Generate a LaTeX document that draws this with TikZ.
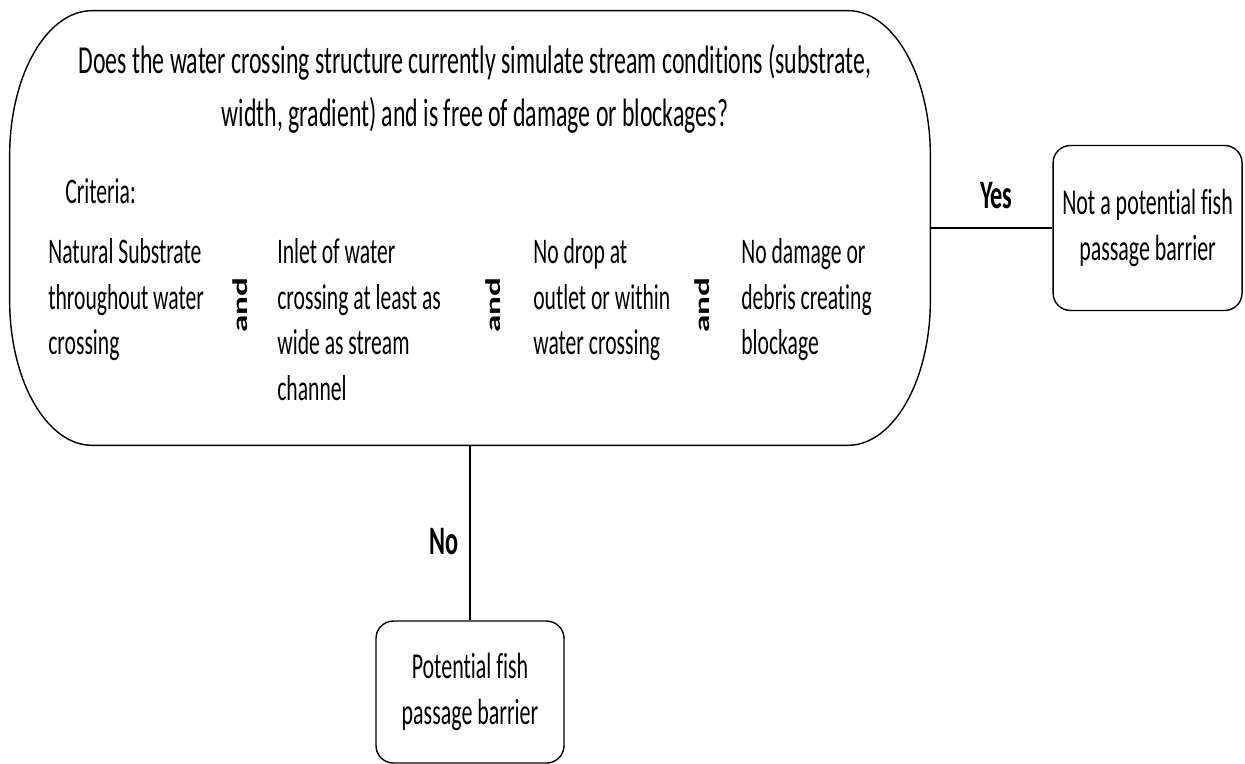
\documentclass[tikz,border=0pt]{standalone}
\usepackage{graphicx}
\usepackage{fontspec}
\setmainfont{Carlito}[FakeStretch=0.6, Ligatures=CommonOff]
\newfontfamily\andfont{Carlito}
\usetikzlibrary{
    calc,
    positioning
}
\tikzset{
    outcome/.style={draw, line width=0.8pt, rounded corners=0.35cm, align=center, minimum width=3.78cm, minimum height=3.3cm, font=\fontsize{20.8}{26}\selectfont},
    crit/.style={anchor=north west, align=left, inner sep=0pt, font=\fontsize{20.5}{26}\selectfont},
    andword/.style={rotate=90, inner sep=0pt, font=\andfont\fontsize{20}{24}\selectfont\bfseries},
    answer/.style={font=\fontsize{23}{28}\selectfont\bfseries}
}

\begin{document}
\begin{tikzpicture}
    \useasboundingbox (0, 0) rectangle (24.9, 15.28);
    \node[minimum width=18.4cm, minimum height=8.68cm, inner sep=0pt] (question) at (9.4, 10.72) {};
    \draw[line width=0.8pt] ([xshift=1.65cm]question.north west) -- ([xshift=-1.65cm]question.north east)
        arc[start angle=90, end angle=0, x radius=1.65cm, y radius=2.9cm]
        -- ([yshift=2.9cm]question.south east)
        arc[start angle=0, end angle=-90, x radius=1.65cm, y radius=2.9cm]
        -- ([xshift=1.65cm]question.south west)
        arc[start angle=270, end angle=180, x radius=1.65cm, y radius=2.9cm]
        -- ([yshift=-2.9cm]question.north west)
        arc[start angle=180, end angle=90, x radius=1.65cm, y radius=2.9cm]
        -- cycle;
    \node[align=center, font=\fontsize{22.6}{30}\selectfont] (asks) at (9.5, 13.5) {Does the water crossing structure currently simulate stream conditions (substrate,\\width, gradient) and is free of damage or blockages?};
    \node[crit] (criteria) at (1.3, 11.72) {Criteria:};
    \node[crit] (substrate) at (0.96, 10.52) {Natural Substrate\\throughout water\\crossing};
    \node[crit] (inlet) at (5.54, 10.52) {Inlet of water\\crossing at least as\\wide as stream\\channel};
    \node[crit] (drop) at (10.66, 10.52) {No drop at\\outlet or within\\water crossing};
    \node[crit] (damage) at (14.82, 10.52) {No damage or\\debris creating\\blockage};
    \node[andword] (and1) at (4.8, 9.18) {\scalebox{1}[0.6]{and}};
    \node[andword] (and2) at (9.86, 9.18) {\scalebox{1}[0.6]{and}};
    \node[andword] (and3) at (14.04, 9.18) {\scalebox{1}[0.6]{and}};
    \node[outcome, right=2.44cm of question] (notbarrier) {Not a potential fish\\passage barrier};
    \node[outcome, minimum width=3.76cm, minimum height=2.84cm, below=3.5cm of question] (barrier) {Potential fish\\passage barrier};
    \draw[line width=0.8pt]
    (question.east) -- node[answer, above=0.25cm, xshift=0.1cm] {Yes} (notbarrier.west)
    (question.south) -- node[answer, left=0.1cm, pos=0.55] {No} (barrier.north);
\end{tikzpicture}
\end{document}
